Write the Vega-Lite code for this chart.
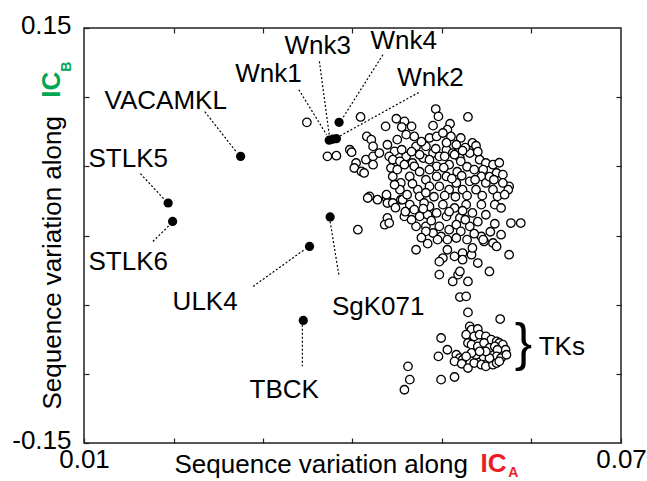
{
  "$schema": "https://vega.github.io/schema/vega-lite/v6.json",
  "width": 537,
  "height": 415,
  "autosize": {"type": "none"},
  "padding": {"left": 84, "top": 28, "right": 26, "bottom": 38},
  "background": "white",
  "config": {
    "view": {"stroke": "#231f20", "strokeWidth": 1.5},
    "font": "Liberation Sans",
    "axis": {
      "grid": false, "domain": false, "tickColor": "#231f20", "tickWidth": 1.2, "tickSize": -5,
      "labelFont": "Liberation Sans", "labelFontSize": 26, "labelColor": "black",
      "titleFont": "Liberation Sans", "titleFontSize": 26, "titleFontWeight": "normal", "titleColor": "black",
      "labelOverlap": false, "labelFlush": false, "labelBound": false
    },
    "text": {"font": "Liberation Sans", "fontSize": 26, "color": "black"}
  },
  "datasets": {
    "others": [
      {"x":0.0349,"y":0.0818},{"x":0.0372,"y":0.0572},{"x":0.0382,"y":0.0577},{"x":0.0397,"y":0.0620},{"x":0.0399,"y":0.0602},
      {"x":0.0409,"y":0.0857},{"x":0.0437,"y":0.0789},{"x":0.0449,"y":0.0844},{"x":0.0458,"y":0.0825},{"x":0.0455,"y":0.0784},
      {"x":0.0466,"y":0.0789},{"x":0.0490,"y":0.0794},{"x":0.0493,"y":0.0914},{"x":0.0496,"y":0.0861},{"x":0.0529,"y":0.0857},
      {"x":0.0509,"y":0.0808},{"x":0.0506,"y":0.0765},{"x":0.0416,"y":0.0716},{"x":0.0421,"y":0.0693},{"x":0.0423,"y":0.0644},
      {"x":0.0439,"y":0.0656},{"x":0.0447,"y":0.0608},{"x":0.0460,"y":0.0729},{"x":0.0469,"y":0.0716},{"x":0.0471,"y":0.0644},
      {"x":0.0482,"y":0.0644},{"x":0.0486,"y":0.0705},{"x":0.0494,"y":0.0716},{"x":0.0501,"y":0.0741},{"x":0.0510,"y":0.0716},
      {"x":0.0521,"y":0.0705},{"x":0.0534,"y":0.0669},{"x":0.0538,"y":0.0649},{"x":0.0404,"y":0.0524},{"x":0.0415,"y":0.0548},
      {"x":0.0423,"y":0.0572},{"x":0.0430,"y":0.0596},{"x":0.0441,"y":0.0572},{"x":0.0445,"y":0.0548},{"x":0.0460,"y":0.0572},
      {"x":0.0467,"y":0.0524},{"x":0.0479,"y":0.0560},{"x":0.0490,"y":0.0596},{"x":0.0497,"y":0.0572},{"x":0.0505,"y":0.0620},
      {"x":0.0512,"y":0.0596},{"x":0.0520,"y":0.0560},{"x":0.0531,"y":0.0596},{"x":0.0542,"y":0.0548},{"x":0.0549,"y":0.0524},
      {"x":0.0557,"y":0.0512},{"x":0.0402,"y":0.0488},{"x":0.0410,"y":0.0463},{"x":0.0413,"y":0.0452},{"x":0.0423,"y":0.0512},
      {"x":0.0443,"y":0.0488},{"x":0.0453,"y":0.0536},{"x":0.0458,"y":0.0512},{"x":0.0469,"y":0.0500},{"x":0.0475,"y":0.0584},
      {"x":0.0486,"y":0.0548},{"x":0.0494,"y":0.0500},{"x":0.0503,"y":0.0572},{"x":0.0508,"y":0.0512},{"x":0.0514,"y":0.0584},
      {"x":0.0521,"y":0.0536},{"x":0.0528,"y":0.0497},{"x":0.0536,"y":0.0476},{"x":0.0546,"y":0.0476},{"x":0.0564,"y":0.0526},
      {"x":0.0561,"y":0.0452},{"x":0.0568,"y":0.0440},{"x":0.0575,"y":0.0355},{"x":0.0574,"y":0.0331},{"x":0.0445,"y":0.0427},
      {"x":0.0454,"y":0.0380},{"x":0.0453,"y":0.0331},{"x":0.0464,"y":0.0427},{"x":0.0473,"y":0.0331},{"x":0.0475,"y":0.0283},
      {"x":0.0482,"y":0.0403},{"x":0.0486,"y":0.0355},{"x":0.0494,"y":0.0427},{"x":0.0497,"y":0.0355},{"x":0.0505,"y":0.0427},
      {"x":0.0508,"y":0.0331},{"x":0.0516,"y":0.0380},{"x":0.0523,"y":0.0331},{"x":0.0531,"y":0.0391},{"x":0.0538,"y":0.0331},
      {"x":0.0544,"y":0.0427},{"x":0.0549,"y":0.0380},{"x":0.0557,"y":0.0331},{"x":0.0562,"y":0.0283},{"x":0.0568,"y":0.0380},
      {"x":0.0419,"y":0.0283},{"x":0.0428,"y":0.0259},{"x":0.0438,"y":0.0271},{"x":0.0439,"y":0.0235},{"x":0.0454,"y":0.0259},
      {"x":0.0464,"y":0.0223},{"x":0.0469,"y":0.0187},{"x":0.0475,"y":0.0138},{"x":0.0486,"y":0.0210},{"x":0.0494,"y":0.0163},
      {"x":0.0501,"y":0.0223},{"x":0.0505,"y":0.0138},{"x":0.0514,"y":0.0199},{"x":0.0520,"y":0.0127},{"x":0.0527,"y":0.0223},
      {"x":0.0534,"y":0.0163},{"x":0.0544,"y":0.0223},{"x":0.0549,"y":0.0150},{"x":0.0559,"y":0.0223},{"x":0.0566,"y":0.0199},
      {"x":0.0458,"y":0.0138},{"x":0.0439,"y":0.0127},{"x":0.0436,"y":0.0078},{"x":0.0441,"y":0.0090},{"x":0.0406,"y":0.0042},
      {"x":0.0471,"y":0.0066},{"x":0.0482,"y":0.0066},{"x":0.0490,"y":0.0018},{"x":0.0497,"y":0.0066},{"x":0.0499,"y":-0.0007},
      {"x":0.0508,"y":0.0042},{"x":0.0516,"y":0.0078},{"x":0.0521,"y":0.0030},{"x":0.0495,"y":-0.0030},{"x":0.0516,"y":-0.0018},
      {"x":0.0531,"y":0.0066},{"x":0.0544,"y":-0.0007},{"x":0.0547,"y":-0.0043},{"x":0.0557,"y":-0.0054},{"x":0.0561,"y":-0.0079},
      {"x":0.0566,"y":0.0006},{"x":0.0577,"y":0.0090},{"x":0.0588,"y":0.0090},{"x":0.0471,"y":-0.0103},{"x":0.0506,"y":-0.0103},
      {"x":0.0501,"y":-0.0163},{"x":0.0497,"y":-0.0189},{"x":0.0514,"y":-0.0151},{"x":0.0523,"y":-0.0127},{"x":0.0533,"y":-0.0139},
      {"x":0.0534,"y":-0.0090},{"x":0.0540,"y":-0.0199},{"x":0.0553,"y":-0.0260},{"x":0.0575,"y":-0.0139},{"x":0.0497,"y":-0.0283},
      {"x":0.0512,"y":-0.0332},{"x":0.0518,"y":-0.0283},{"x":0.0520,"y":-0.0260},{"x":0.0529,"y":-0.0332},{"x":0.0417,"y":0.0271},
      {"x":0.0438,"y":0.0295},{"x":0.0445,"y":0.0235},{"x":0.0456,"y":0.0259},{"x":0.0459,"y":0.0172},{"x":0.0482,"y":0.0030},
      {"x":0.0480,"y":0.0235},{"x":0.0484,"y":0.0150},{"x":0.0546,"y":-0.0030},{"x":0.0523,"y":-0.0175},
      {"x":0.0450,"y":0.0693},{"x":0.0477,"y":0.0678},{"x":0.0505,"y":0.0671},{"x":0.0516,"y":0.0656},{"x":0.0526,"y":0.0635},
      {"x":0.0455,"y":0.0620},{"x":0.0466,"y":0.0606},{"x":0.0493,"y":0.0627},{"x":0.0523,"y":0.0613},{"x":0.0540,"y":0.0606},
      {"x":0.0450,"y":0.0476},{"x":0.0475,"y":0.0461},{"x":0.0486,"y":0.0476},{"x":0.0502,"y":0.0490},{"x":0.0517,"y":0.0461},
      {"x":0.0522,"y":0.0432},{"x":0.0553,"y":0.0425},{"x":0.0447,"y":0.0367},{"x":0.0467,"y":0.0374},{"x":0.0511,"y":0.0411},
      {"x":0.0537,"y":0.0403},{"x":0.0558,"y":0.0403},{"x":0.0461,"y":0.0295},{"x":0.0482,"y":0.0309},{"x":0.0491,"y":0.0280},
      {"x":0.0503,"y":0.0288},{"x":0.0515,"y":0.0280},{"x":0.0528,"y":0.0288},{"x":0.0545,"y":0.0288},{"x":0.0570,"y":0.0295},
      {"x":0.0448,"y":0.0201},{"x":0.0479,"y":0.0194},{"x":0.0508,"y":0.0172},{"x":0.0523,"y":0.0179},{"x":0.0466,"y":0.0114},
      {"x":0.0488,"y":0.0107},{"x":0.0526,"y":0.0114},{"x":0.0540,"y":0.0100},{"x":0.0559,"y":0.0085},{"x":0.0477,"y":-0.0016},
      {"x":0.0506,"y":-0.0030},{"x":0.0528,"y":-0.0030},{"x":0.0536,"y":0.0013},{"x":0.0554,"y":0.0027},{"x":0.0484,"y":-0.0059},
      {"x":0.0520,"y":-0.0445},{"x":0.0527,"y":-0.0440},{"x":0.0529,"y":-0.0556},{"x":0.0565,"y":-0.0604},{"x":0.0531,"y":-0.0657},
      {"x":0.0533,"y":-0.0681},{"x":0.0540,"y":-0.0676},{"x":0.0499,"y":-0.0741},{"x":0.0506,"y":-0.0826},{"x":0.0496,"y":-0.0874},
      {"x":0.0462,"y":-0.0946},{"x":0.0464,"y":-0.1042},{"x":0.0458,"y":-0.1115},{"x":0.0499,"y":-0.1042},{"x":0.0514,"y":-0.1023},
      {"x":0.0527,"y":-0.0717},{"x":0.0536,"y":-0.0729},{"x":0.0542,"y":-0.0717},{"x":0.0549,"y":-0.0729},{"x":0.0555,"y":-0.0753},
      {"x":0.0561,"y":-0.0766},{"x":0.0564,"y":-0.0777},{"x":0.0568,"y":-0.0789},{"x":0.0571,"y":-0.0826},{"x":0.0529,"y":-0.0777},
      {"x":0.0533,"y":-0.0789},{"x":0.0540,"y":-0.0802},{"x":0.0547,"y":-0.0777},{"x":0.0553,"y":-0.0813},{"x":0.0559,"y":-0.0802},
      {"x":0.0562,"y":-0.0826},{"x":0.0561,"y":-0.0874},{"x":0.0566,"y":-0.0886},{"x":0.0572,"y":-0.0862},{"x":0.0516,"y":-0.0862},
      {"x":0.0520,"y":-0.0886},{"x":0.0523,"y":-0.0898},{"x":0.0514,"y":-0.0910},{"x":0.0522,"y":-0.0927},{"x":0.0529,"y":-0.0958},
      {"x":0.0536,"y":-0.0922},{"x":0.0544,"y":-0.0934},{"x":0.0549,"y":-0.0946},{"x":0.0557,"y":-0.0934},{"x":0.0561,"y":-0.0922},
      {"x":0.0564,"y":-0.0910},{"x":0.0546,"y":-0.0874},{"x":0.0538,"y":-0.0862},{"x":0.0553,"y":-0.0886},{"x":0.0533,"y":-0.0849},
      {"x":0.0527,"y":-0.0874},{"x":0.0549,"y":-0.0838},{"x":0.0542,"y":-0.0838}
    ],
    "kinases": [
      {"name":"Wnk1","x":0.0374,"y":0.0689},
      {"name":"Wnk3","x":0.0378,"y":0.0696},
      {"name":"Wnk2","x":0.0382,"y":0.0700},
      {"name":"Wnk4","x":0.0385,"y":0.0818},
      {"name":"VACAMKL","x":0.0275,"y":0.0572},
      {"name":"STLK5","x":0.0194,"y":0.0235},
      {"name":"STLK6","x":0.0199,"y":0.0102},
      {"name":"ULK4","x":0.0352,"y":-0.0079},
      {"name":"SgK071","x":0.0375,"y":0.0134},
      {"name":"TBCK","x":0.0345,"y":-0.0614}
    ],
    "leaders": [
      {"name":"VACAMKL","x1":0.0235,"y1":0.0895,"x2":0.0270,"y2":0.0606},
      {"name":"STLK5","x1":0.0163,"y1":0.0447,"x2":0.0190,"y2":0.0259},
      {"name":"STLK6","x1":0.0177,"y1":-0.0043,"x2":0.0196,"y2":0.0078},
      {"name":"ULK4","x1":0.0289,"y1":-0.0368,"x2":0.0346,"y2":-0.0103},
      {"name":"SgK071","x1":0.0375,"y1":0.0102,"x2":0.0385,"y2":-0.0296},
      {"name":"TBCK","x1":0.0344,"y1":-0.0645,"x2":0.0344,"y2":-0.0946},
      {"name":"Wnk1","x1":0.0340,"y1":0.1054,"x2":0.0371,"y2":0.0729},
      {"name":"Wnk3","x1":0.0363,"y1":0.1259,"x2":0.0374,"y2":0.0729},
      {"name":"Wnk4","x1":0.0434,"y1":0.1307,"x2":0.0389,"y2":0.0849},
      {"name":"Wnk2","x1":0.0474,"y1":0.1034,"x2":0.0385,"y2":0.0716}
    ],
    "labels": [
      {"name":"Wnk1","lx":0.0269,"ly":0.1112},
      {"name":"Wnk3","lx":0.0324,"ly":0.1311},
      {"name":"Wnk4","lx":0.0420,"ly":0.1347},
      {"name":"Wnk2","lx":0.0450,"ly":0.1079},
      {"name":"VACAMKL","lx":0.0123,"ly":0.0913},
      {"name":"STLK5","lx":0.0105,"ly":0.0497},
      {"name":"STLK6","lx":0.0105,"ly":-0.0247},
      {"name":"ULK4","lx":0.0199,"ly":-0.0536},
      {"name":"SgK071","lx":0.0377,"ly":-0.0573},
      {"name":"TBCK","lx":0.0285,"ly":-0.1173},
      {"name":"TKs","lx":0.0608,"ly":-0.0862}
    ]
  },
  "layer": [
    {
      "data": {"name": "leaders"},
      "mark": {"type": "rule", "color": "black", "strokeWidth": 1.2, "strokeDash": [2, 2]},
      "encoding": {
        "x": {"field": "x1", "type": "quantitative", "axis": null, "scale": {"domain": [0.01, 0.07], "nice": false, "zero": false}},
        "y": {"field": "y1", "type": "quantitative", "axis": null, "scale": {"domain": [-0.15, 0.15], "nice": false, "zero": false}},
        "x2": {"field": "x2"},
        "y2": {"field": "y2"}
      }
    },
    {
      "data": {"name": "others"},
      "mark": {"type": "point", "shape": "circle", "filled": false, "fill": "white", "fillOpacity": 1, "stroke": "black", "strokeWidth": 1.3, "size": 72, "opacity": 1},
      "encoding": {
        "x": {"field": "x", "type": "quantitative", "scale": {"domain": [0.01, 0.07], "nice": false, "zero": false},
          "axis": {"orient": "bottom", "values": [0.01, 0.02, 0.03, 0.04, 0.05, 0.06, 0.07],
            "labelExpr": "datum.value < 0.015 ? '0.01' : (datum.value > 0.065 ? '0.07' : '')",
            "labelPadding": 8, "title": "Sequence variation along", "titleX": 90, "titleY": 29, "titleAlign": "left", "titleBaseline": "alphabetic"}},
        "y": {"field": "y", "type": "quantitative", "scale": {"domain": [-0.15, 0.15], "nice": false, "zero": false},
          "axis": {"orient": "left", "values": [-0.15, -0.1, -0.05, 0, 0.05, 0.1, 0.15],
            "labelExpr": "datum.value > 0.14 ? '0.15' : (datum.value < -0.14 ? '-0.15' : '')",
            "labelPadding": 18, "labelOffset": -3, "title": "Sequence variation along", "titleAngle": 270, "titleX": -24, "titleY": 381, "titleAlign": "left", "titleBaseline": "alphabetic"}}
      }
    },
    {
      "data": {"name": "kinases"},
      "mark": {"type": "point", "shape": "circle", "filled": true, "color": "black", "opacity": 1, "size": 85},
      "encoding": {
        "x": {"field": "x", "type": "quantitative", "scale": {"domain": [0.01, 0.07], "nice": false, "zero": false},
          "axis": {"orient": "top", "values": [0.02, 0.03, 0.04, 0.05, 0.06], "labels": false, "title": null}},
        "y": {"field": "y", "type": "quantitative", "scale": {"domain": [-0.15, 0.15], "nice": false, "zero": false},
          "axis": {"orient": "right", "values": [-0.1, -0.05, 0, 0.05, 0.1], "labels": false, "title": null}}
      }
    },
    {
      "data": {"name": "labels"},
      "mark": {"type": "text", "align": "left", "baseline": "alphabetic", "fontSize": 26},
      "encoding": {
        "x": {"field": "lx", "type": "quantitative", "axis": null, "scale": {"domain": [0.01, 0.07], "nice": false, "zero": false}},
        "y": {"field": "ly", "type": "quantitative", "axis": null, "scale": {"domain": [-0.15, 0.15], "nice": false, "zero": false}},
        "text": {"field": "name"}
      }
    },
    {
      "data": {"values": [{}]},
      "mark": {"type": "text", "text": "}", "align": "center", "baseline": "alphabetic", "fontSize": 52},
      "encoding": {
        "x": {"datum": 0.0591, "type": "quantitative", "axis": null, "scale": {"domain": [0.01, 0.07], "nice": false, "zero": false}},
        "y": {"datum": -0.0903, "type": "quantitative", "axis": null, "scale": {"domain": [-0.15, 0.15], "nice": false, "zero": false}}
      }
    },
    {
      "data": {"values": [{}]},
      "mark": {"type": "text", "text": "IC", "align": "left", "baseline": "alphabetic", "fontSize": 26, "fontWeight": "bold", "color": "#ec1c24"},
      "encoding": {
        "x": {"datum": 0.0543, "type": "quantitative", "axis": null, "scale": {"domain": [0.01, 0.07], "nice": false, "zero": false}},
        "y": {"datum": -0.1707, "type": "quantitative", "axis": null, "scale": {"domain": [-0.15, 0.15], "nice": false, "zero": false}}
      }
    },
    {
      "data": {"values": [{}]},
      "mark": {"type": "text", "text": "A", "align": "left", "baseline": "alphabetic", "fontSize": 14, "fontWeight": "bold", "color": "#ec1c24"},
      "encoding": {
        "x": {"datum": 0.0574, "type": "quantitative", "axis": null, "scale": {"domain": [0.01, 0.07], "nice": false, "zero": false}},
        "y": {"datum": -0.1748, "type": "quantitative", "axis": null, "scale": {"domain": [-0.15, 0.15], "nice": false, "zero": false}}
      }
    },
    {
      "data": {"values": [{}]},
      "mark": {"type": "text", "text": "IC", "angle": 270, "align": "left", "baseline": "alphabetic", "fontSize": 26, "fontWeight": "bold", "color": "#00a651"},
      "encoding": {
        "x": {"datum": 0.0073, "type": "quantitative", "axis": null, "scale": {"domain": [0.01, 0.07], "nice": false, "zero": false}},
        "y": {"datum": 0.0996, "type": "quantitative", "axis": null, "scale": {"domain": [-0.15, 0.15], "nice": false, "zero": false}}
      }
    },
    {
      "data": {"values": [{}]},
      "mark": {"type": "text", "text": "B", "angle": 270, "align": "left", "baseline": "alphabetic", "fontSize": 14, "fontWeight": "bold", "color": "#00a651"},
      "encoding": {
        "x": {"datum": 0.0086, "type": "quantitative", "axis": null, "scale": {"domain": [0.01, 0.07], "nice": false, "zero": false}},
        "y": {"datum": 0.1184, "type": "quantitative", "axis": null, "scale": {"domain": [-0.15, 0.15], "nice": false, "zero": false}}
      }
    }
  ],
  "resolve": {"axis": {"x": "independent", "y": "independent"}}
}
